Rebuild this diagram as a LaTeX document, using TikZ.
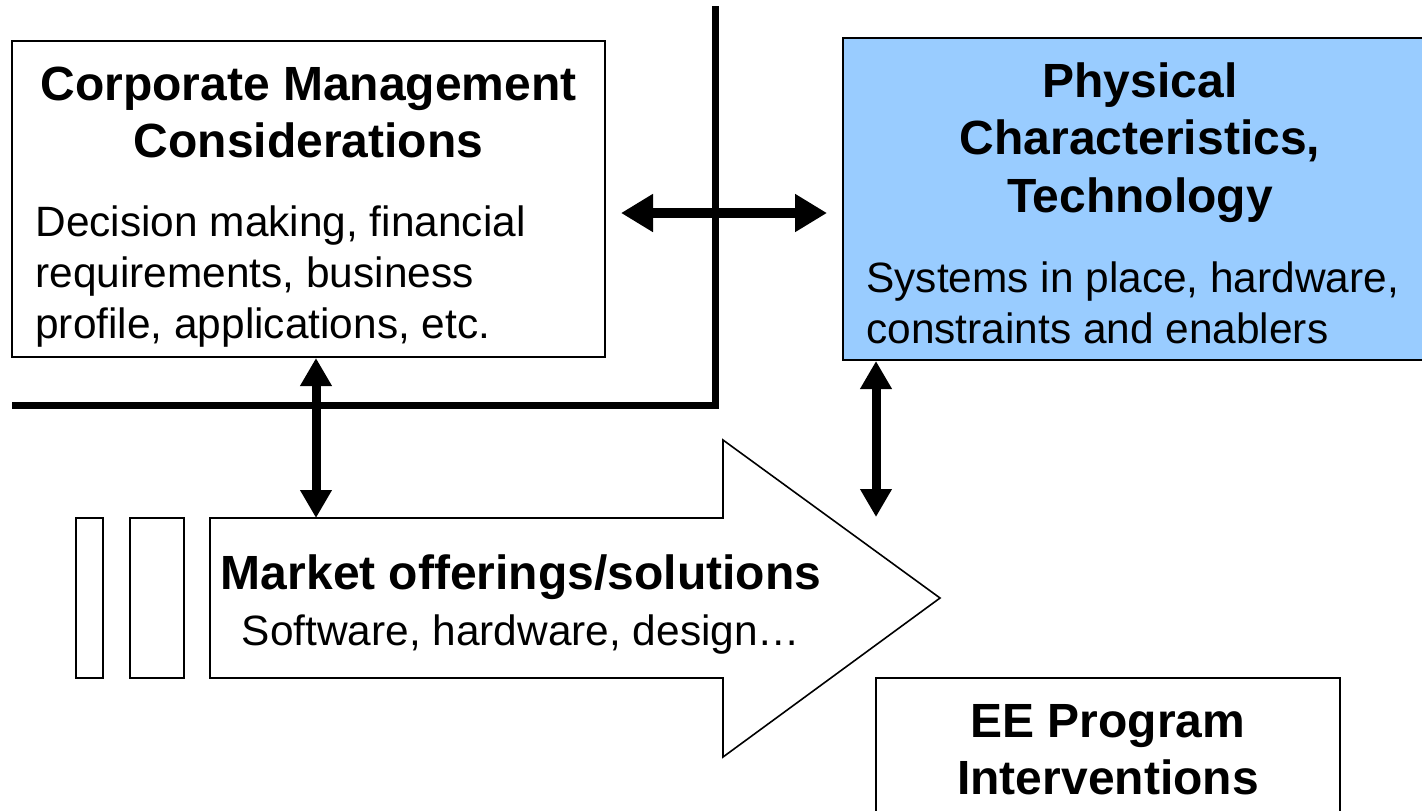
\documentclass[tikz,border=0pt]{standalone}
\usepackage{fontspec}
\setmainfont{Liberation Sans}
\usetikzlibrary{arrows.meta,fit}
\definecolor{techblue}{HTML}{99CCFF}
\begin{document}
\begin{tikzpicture}[x=0.5pt,y=-0.5pt,
  box/.style={draw=black,line width=1pt,inner sep=0pt},
  title/.style={font=\fontsize{24}{28.5}\selectfont\bfseries,anchor=base,inner sep=0pt},
  body/.style={font=\fontsize{21.2}{25.7}\selectfont,anchor=base west,inner sep=0pt},
  bodyc/.style={font=\fontsize{21.2}{25.7}\selectfont,anchor=base,inner sep=0pt},
  bar/.style={line width=3.5pt,line join=miter},
  hlink/.style={line width=5pt,{Triangle[length=16pt,width=18pt]}-{Triangle[length=16pt,width=18pt]}},
  vlink/.style={line width=4.5pt,{Triangle[length=14pt,width=15pt]}-{Triangle[length=14pt,width=15pt]}},
  flow/.style={draw=black,line width=0.8pt,fill=white}
]
\useasboundingbox (0,0) rectangle (1422,810);

% helper coordinates for connector rows and columns
\coordinate (hrow) at (0,213);
\coordinate (lcol) at (316,0);
\coordinate (rcol) at (876,0);
\coordinate (rend) at (876,517);
\coordinate (mkttop) at (316,518);

% corporate management box
\node[box,fit={(12,41) (605,357)}] (corp) {};
\node[title] (corpT1) at (308.5,100) {Corporate Management};
\node[title] (corpT2) at (308.5,157) {Considerations};
\node[body] (corpB1) at (35,236) {Decision making, financial};
\node[body] (corpB2) at (35,287) {requirements, business};
\node[body] (corpB3) at (35,338) {profile, applications, etc.};

% physical characteristics box
\node[box,fill=techblue,fit={(843,38) (1440,360)}] (tech) {};
\node[title] (techT1) at (1140,97) {Physical};
\node[title] (techT2) at (1140,154) {Characteristics,};
\node[title] (techT3) at (1140,212) {Technology};
\node[body] (techB1) at (866,292) {Systems in place, hardware,};
\node[body] (techB2) at (866,343) {constraints and enablers};

% L-shaped divider
\draw[bar] (12,405) -- (715,405) -- (715,6);

% market offerings arrow with trailing bars
\node[box,line width=0.8pt,fit={(76,518) (103,678)}] (bar1) {};
\node[box,line width=0.8pt,fit={(130,518) (184,678)}] (bar2) {};
\draw[flow] (210,518) -- (723,518) -- (723,440) -- (940,598) -- (723,757)
  -- (723,678) -- (210,678) -- cycle;
\node[title] (mktT) at (521,589) {Market offerings/solutions};
\node[bodyc] (mktB) at (521,645) {Software, hardware, design…};

% EE program box
\node[box,fill=white,fit={(876,678) (1340,840)}] (ee) {};
\node[title] (eeT1) at (1108,737) {EE Program};
\node[title] (eeT2) at (1108,794) {Interventions};

% connectors
\draw[hlink,shorten <=7.5pt,shorten >=7.5pt] (corp.east |- hrow) -- (tech.west |- hrow);
\draw[vlink] (corp.south -| lcol) -- (mkttop);
\draw[vlink] (tech.south -| rcol) -- (rend);
\end{tikzpicture}
\end{document}
